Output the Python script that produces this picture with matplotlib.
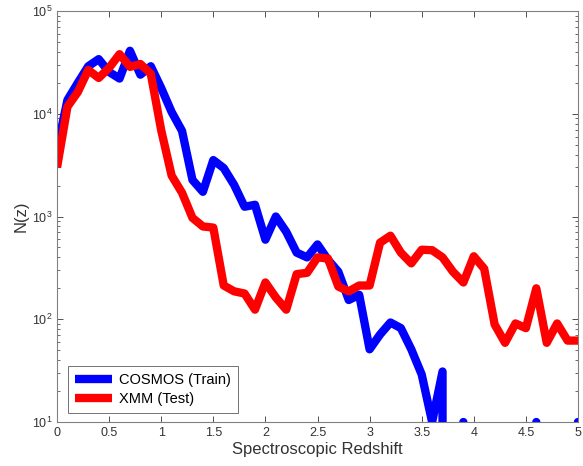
import numpy as np
import matplotlib.pyplot as plt

# Redshift bins (step 0.1)
z = np.round(np.arange(0, 5.01, 0.1), 1)

# COSMOS (Train) counts; zeros are empty bins
cosmos = [4470, 13600, 20000, 29000, 34000, 25500, 22000, 41000, 24000, 29000,
          17800, 10400, 6800, 2270, 1740, 3540, 2960, 2030, 1245, 1300,
          595, 1000, 710, 445, 400, 535, 380, 290, 154, 173,
          51, 71, 93, 82, 51, 29, 10, 31, 0, 10,
          0, 0, 0, 0, 0, 0, 10, 0, 0, 0,
          10]

# XMM (Test) counts
xmm = [3000, 11700, 16300, 26700, 22300, 28000, 38000, 28600, 30500, 24500,
       6900, 2500, 1700, 970, 800, 780, 213, 187, 178, 124,
       228, 163, 124, 275, 283, 400, 390, 208, 187, 213,
       213, 556, 650, 445, 350, 475, 470, 400, 290, 228,
       410, 310, 89, 59, 91, 82, 200, 59, 91, 62,
       62]

plt.rcParams['font.family'] = ['Liberation Sans', 'DejaVu Sans']
axis_color = '#333333'

fig = plt.figure(figsize=(5.83, 4.66), dpi=100)
ax = fig.add_axes([0.0978, 0.0944, 0.8936, 0.882])

ax.plot(z, cosmos, color='#0000ff', lw=6, solid_joinstyle='round',
        solid_capstyle='round', label='COSMOS (Train)')
ax.plot(z, xmm, color='#ff0000', lw=6, solid_joinstyle='round',
        solid_capstyle='butt', label='XMM (Test)')

ax.set_yscale('log')
ax.set_xlim(0, 5)
ax.set_ylim(10, 1e5)
ax.set_xticks(np.arange(0, 5.01, 0.5))
ax.set_xticklabels(['0', '0.5', '1', '1.5', '2', '2.5', '3', '3.5', '4', '4.5', '5'])

ax.tick_params(which='both', direction='in', top=True, right=True,
               colors=axis_color, labelsize=9)
ax.tick_params(which='major', length=4, width=0.6)
ax.tick_params(which='minor', length=2, width=0.5)
ax.tick_params(axis='x', which='minor', bottom=False, top=False)
for s in ax.spines.values():
    s.set_color('#808080')
    s.set_linewidth(0.8)

ax.set_xlabel('Spectroscopic Redshift', fontsize=12, color=axis_color, labelpad=2)
ax.set_ylabel('N(z)', fontsize=12, color=axis_color, labelpad=2)

leg = ax.legend(loc='lower left', bbox_to_anchor=(0.021, 0.022), borderaxespad=0,
                fancybox=False, edgecolor=axis_color, fontsize=10.5,
                handlelength=2.5, handletextpad=0.5, borderpad=0.5,
                labelspacing=0.3)
leg.get_frame().set_linewidth(0.6)
for h in leg.get_lines():
    h.set_solid_capstyle('butt')

fig.savefig('out.png', dpi=100)
